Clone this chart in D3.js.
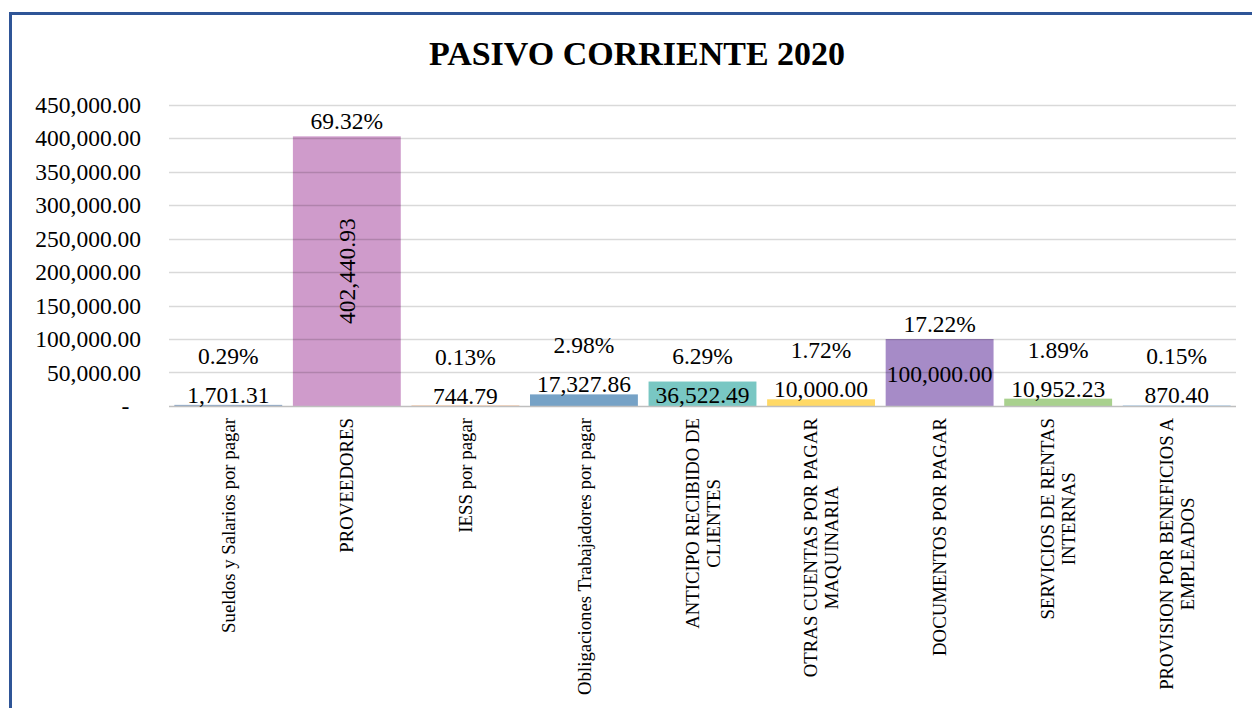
<!DOCTYPE html>
<html>
<head>
<meta charset="utf-8">
<script src="https://cdn.jsdelivr.net/npm/d3@7"></script>
<style>
  body { margin: 0; background: #fff; }
  text { font-family: "Times New Roman", "Liberation Serif", serif; fill: #000; }
</style>
</head>
<body>
<script>
// data
var categories = [
  "Sueldos y Salarios por pagar",
  "PROVEEDORES",
  "IESS por pagar",
  "Obligaciones Trabajadores por pagar",
  "ANTICIPO RECIBIDO DE\nCLIENTES",
  "OTRAS CUENTAS POR PAGAR\nMAQUINARIA",
  "DOCUMENTOS POR PAGAR",
  "SERVICIOS DE RENTAS\nINTERNAS",
  "PROVISION POR BENEFICIOS A\nEMPLEADOS"
];
var values = [1701.31, 402440.93, 744.79, 17327.86, 36522.49, 10000.00, 100000.00, 10952.23, 870.40];
var percents = [0.29, 69.32, 0.13, 2.98, 6.29, 1.72, 17.22, 1.89, 0.15];
var yTicks = [0, 50000, 100000, 150000, 200000, 250000, 300000, 350000, 400000, 450000];
var colors = ["#8EA9C8", "#CF9BCB", "#F4B183", "#76A2C6", "#79C7C3", "#FFD966", "#A68BC7", "#A9D18E", "#9DC3E6"];

var W = 1252, H = 708;
var margin = {top: 104.5, right: 16, bottom: 302, left: 169};

var svg = d3.select("body").append("svg")
    .attr("width", W)
    .attr("height", H);

svg.append("rect").attr("width", W).attr("height", H).attr("fill", "#fff");

// outer frame (only top and left edge are in view)
svg.append("rect")
    .attr("x", 10.5).attr("y", 13.5)
    .attr("width", 1400).attr("height", 900)
    .attr("fill", "none")
    .attr("stroke", "#2F5597")
    .attr("stroke-width", 3);

svg.append("text")
    .attr("x", 637).attr("y", 65)
    .attr("text-anchor", "middle")
    .style("font-size", "34px")
    .style("font-weight", "bold")
    .text("PASIVO CORRIENTE 2020");

var x = d3.scaleBand()
    .domain(d3.range(categories.length))
    .range([margin.left, W - margin.right])
    .paddingInner(0.09)
    .paddingOuter(0.045);

var y = d3.scaleLinear()
    .domain([0, 450000])
    .range([H - margin.bottom, margin.top]);

var fmt = d3.format(",.2f");

// bars
svg.selectAll(".bar")
    .data(values)
  .enter().append("rect")
    .attr("class", "bar")
    .attr("x", function(d, i) { return x(i); })
    .attr("width", x.bandwidth())
    .attr("y", function(d) { return y(d); })
    .attr("height", function(d) { return y(0) - y(d); })
    .attr("fill", function(d, i) { return colors[i]; });

// gridlines drawn over the bars (semi transparent)
svg.append("g").selectAll("line")
    .data(yTicks.slice(1))
  .enter().append("line")
    .attr("x1", margin.left).attr("x2", W - margin.right)
    .attr("y1", function(d) { return Math.round(y(d)) + 0.5; })
    .attr("y2", function(d) { return Math.round(y(d)) + 0.5; })
    .attr("stroke", "rgba(0,0,0,0.15)")
    .attr("stroke-width", 1.3);

svg.append("line")
    .attr("x1", margin.left).attr("x2", W - margin.right)
    .attr("y1", Math.round(y(0)) + 0.5).attr("y2", Math.round(y(0)) + 0.5)
    .attr("stroke", "#BFBFBF")
    .attr("stroke-width", 1.5);

// y axis labels
var yAxis = d3.axisLeft(y)
    .tickValues(yTicks)
    .tickSize(0)
    .tickPadding(28)
    .tickFormat(function(d) { return d === 0 ? "-\u2007" : fmt(d); });

var gy = svg.append("g")
    .attr("transform", "translate(" + margin.left + ",0)")
    .call(yAxis);
gy.select(".domain").remove();
gy.selectAll("text")
    .style("font-size", "23.5px")
    .style("font-family", "'Times New Roman', 'Liberation Serif', serif")
    .attr("fill", "#000");

// category labels, rotated
var labelTop = y(0) + 12;
svg.selectAll(".cat")
    .data(categories)
  .enter().append("text")
    .attr("class", "cat")
    .style("font-size", "18.8px")
    .each(function(d, i) {
      var t = d3.select(this);
      var lines = d.split("\n");
      var cx = x(i) + x.bandwidth() / 2;
      if (lines.length === 1) {
        t.attr("transform", "translate(" + cx + "," + labelTop + ") rotate(-90)")
          .attr("text-anchor", "end")
          .attr("dy", "0.35em")
          .text(d);
      } else {
        var spans = lines.map(function(l, k) {
          return t.append("tspan").attr("x", 0)
            .attr("dy", k === 0 ? (-(lines.length - 1) * 21 / 2) + 6.5 : 21)
            .text(l);
        });
        var L = d3.max(spans, function(s) { return s.node().getComputedTextLength(); });
        t.attr("text-anchor", "middle")
          .attr("transform", "translate(" + cx + "," + (labelTop + L / 2) + ") rotate(-90)");
      }
    });

// value and percentage labels
values.forEach(function(v, i) {
  var cx = x(i) + x.bandwidth() / 2;
  var top = y(v);
  var h = y(0) - top;
  var valBase;
  if (h > 150) {
    svg.append("text")
      .attr("transform", "translate(" + cx + "," + (top + h / 2) + ") rotate(-90)")
      .attr("text-anchor", "middle")
      .attr("dy", "0.35em")
      .style("font-size", "23.5px")
      .text(fmt(v));
  } else if (h > 20) {
    valBase = top + h / 2 + 9;
    svg.append("text")
      .attr("x", cx).attr("y", valBase)
      .attr("text-anchor", "middle")
      .style("font-size", "23.5px")
      .text(fmt(v));
  } else {
    valBase = top - 2;
    svg.append("text")
      .attr("x", cx).attr("y", valBase)
      .attr("text-anchor", "middle")
      .style("font-size", "23.5px")
      .text(fmt(v));
  }
  var pBase = h > 50 ? top - 7 : valBase - 39;
  svg.append("text")
    .attr("x", cx).attr("y", pBase)
    .attr("text-anchor", "middle")
    .style("font-size", "23.5px")
    .text(percents[i].toFixed(2) + "%");
});
</script>
</body>
</html>
